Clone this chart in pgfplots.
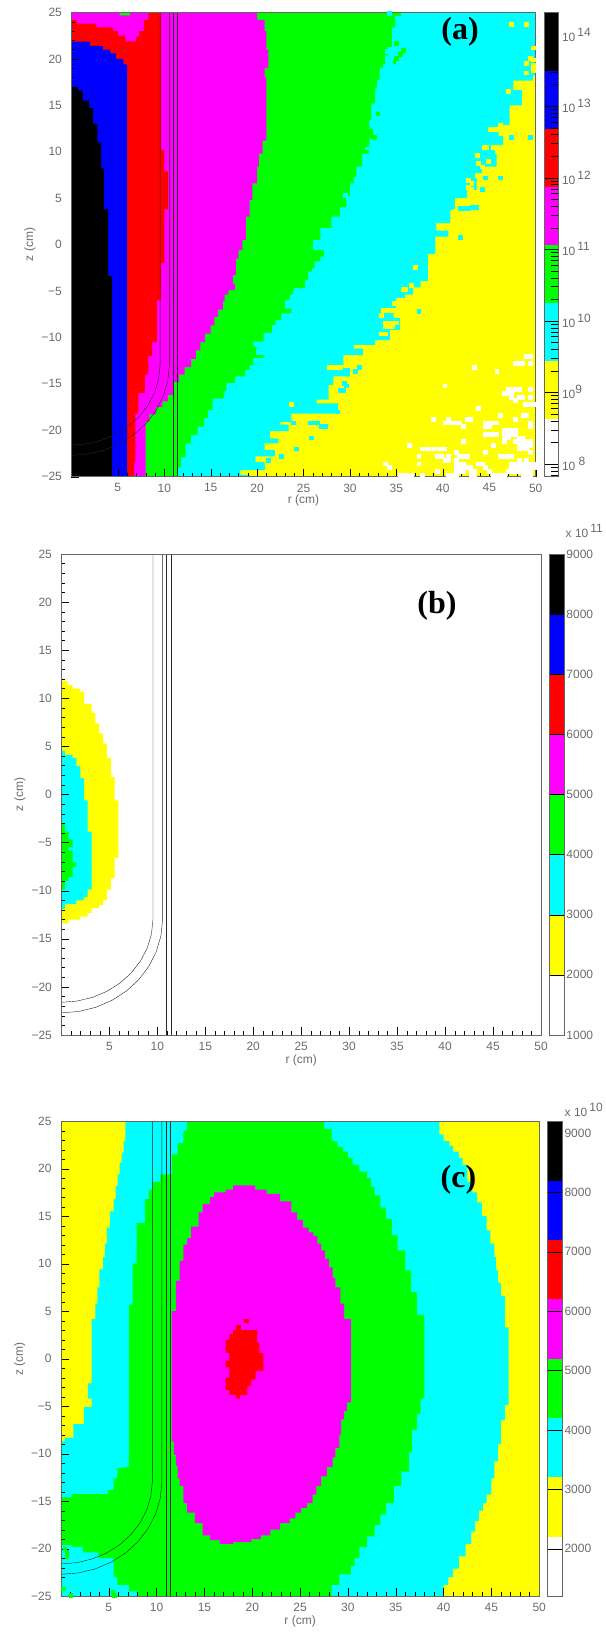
\documentclass[border=0pt]{standalone}
\usepackage{fontspec}
\usepackage{pgfplots}
\pgfplotsset{compat=1.18}
\setmainfont{Liberation Sans}
\newfontfamily\tnr{Liberation Serif}
\definecolor{cY}{rgb}{1,1,0}
\definecolor{cC}{rgb}{0,1,1}
\definecolor{cG}{rgb}{0,1,0}
\definecolor{cM}{rgb}{1,0,1}
\definecolor{cR}{rgb}{1,0,0}
\definecolor{cB}{rgb}{0,0,1}
\definecolor{txt}{gray}{0.42}
\newcommand\tf{\fontsize{12}{14}\selectfont}
\pgfplotsset{
  main/.style={
    scale only axis, anchor=south west, xmin=0, xmax=50, ymin=-25, ymax=25,
    axis on top, axis line style={black!60, line width=.5pt},
    tick align=inside, xtick pos=bottom, ytick pos=left,
    tick style={black, line width=.35pt},
    major tick length=8pt, minor tick length=4pt,
    xtick={5,10,...,50}, minor xtick={1,2,...,49},
    ytick={-25,-20,...,25}, minor ytick={-24,-23,...,24},
    xticklabels={5,10,15,20,25,30,35,40,45,50},
    yticklabels={−25,−20,−15,−10,−5,0,5,10,15,20,25},
    tick label style={font=\tf, text=txt},
    xticklabel style={yshift=-3.5pt},
    yticklabel style={xshift=-6pt},
    xlabel={r (cm)}, ylabel={z (cm)},
    label style={font=\tf, text=txt},
    xlabel style={yshift=3pt}, ylabel style={yshift=-1pt},
    every axis plot/.append style={mark=none},
  },
  cbar/.style={
    scale only axis, anchor=south west, xmin=0, xmax=1,
    axis on top, axis line style={black!60, line width=.5pt},
    xtick=\empty, ytick pos=right, yticklabel pos=right,
    tick align=inside, tick style={black, line width=.35pt},
    tick label style={font=\tf, text=txt},
    yticklabel style={xshift=-1pt},
    every axis plot/.append style={mark=none},
  },
  band/.style={fill=#1, draw=none},
  cell/.style={only marks, mark=square*, mark size=1.86pt, color=#1, mark options={draw=none, fill=#1}},
  reg/.style={const plot, fill=#1, draw=none},
}
\newcommand\vessel{%
  \addplot[black!85, line width=.4pt] coordinates {(9.55,25)(9.55,-13)(9.39,-14.50)(8.96,-15.94)(8.25,-17.30)(7.30,-18.53)(6.13,-19.59)(4.77,-20.45)(3.26,-21.08)(1.66,-21.47)(0,-21.6)};
  \addplot[black!85, line width=.4pt] coordinates {(10.55,25)(10.55,-13)(10.38,-14.68)(9.90,-16.32)(9.13,-17.85)(8.07,-19.24)(6.78,-20.43)(5.27,-21.40)(3.60,-22.12)(1.83,-22.55)(0,-22.7)};
  \addplot[black!85, line width=.4pt] coordinates {(10.95,25)(10.95,-25)};
  \addplot[black!85, line width=.4pt] coordinates {(11.42,25)(11.42,-25)};
}
\begin{document}
\begin{tikzpicture}
\path[use as bounding box] (0,0) rectangle (605pt,1635pt);
% ---------- panel a
\begin{axis}[main, at={(71.4pt,1158.3pt)}, width=464.3pt, height=464.2pt, xlabel style={yshift=1pt}]
\addplot[reg=cY] coordinates {(0,25)(50,-25)(0,-25)};
\addplot[cell=white] coordinates {
(49.0,-12.0)(49.4,-12.0)(47.8,-12.8)(48.2,-12.8)(48.6,-12.8)(49.4,-12.8)(43.4,-13.2)(45.8,-13.6)(40.2,-15.2)
(47.0,-15.6)(47.4,-15.6)(47.8,-15.6)(48.2,-15.6)(49.4,-15.6)(46.6,-16.0)(47.0,-16.0)(47.4,-16.0)
(47.4,-16.4)(48.2,-16.4)(48.6,-16.4)(49.4,-16.4)(47.8,-16.8)(48.9,-17.2)(49.3,-17.2)(49.7,-17.2)(43.8,-17.6)
(46.2,-18.4)(48.6,-18.4)(49.0,-18.4)(39.0,-18.8)(40.6,-18.8)(42.6,-18.8)(43.0,-18.8)(47.8,-18.8)
(40.2,-19.2)(40.6,-19.2)(41.0,-19.2)(41.4,-19.2)(41.8,-19.2)(44.6,-19.2)(45.0,-19.2)(45.4,-19.2)(45.8,-19.2)(49.4,-19.2)
(42.2,-19.6)(44.6,-19.6)(45.0,-19.6)(49.4,-19.6)(46.6,-20.0)(47.0,-20.0)(47.4,-20.0)(47.8,-20.0)
(44.6,-20.4)(45.0,-20.4)(45.4,-20.4)(45.8,-20.4)(46.6,-20.4)(47.0,-20.4)(47.4,-20.4)(47.8,-20.4)
(46.6,-20.8)(47.0,-20.8)(48.2,-20.8)(48.6,-20.8)(42.2,-21.2)(46.6,-21.2)(47.8,-21.2)(48.2,-21.2)(48.6,-21.2)(49.0,-21.2)(49.4,-21.2)
(36.4,-21.6)(45.4,-21.6)(48.2,-21.6)(48.6,-21.6)(49.0,-21.6)(49.4,-21.6)
(37.8,-22.0)(38.2,-22.0)(38.6,-22.0)(39.0,-22.0)(39.4,-22.0)(39.8,-22.0)(40.2,-22.0)(48.2,-22.0)(48.6,-22.0)(49.0,-22.0)
(41.4,-22.4)(44.6,-22.4)(49.4,-22.4)(37.4,-22.8)(39.4,-22.8)(39.8,-22.8)(40.6,-22.8)(41.8,-22.8)(42.2,-22.8)(42.6,-22.8)(46.2,-22.8)(46.6,-22.8)(47.0,-22.8)(47.4,-22.8)
(40.2,-23.2)(40.6,-23.2)(41.4,-23.2)(48.2,-23.2)(49.0,-23.2)(37.4,-23.6)(33.8,-23.6)(41.4,-23.6)(41.8,-23.6)(42.2,-23.6)(43.8,-23.6)(44.2,-23.6)(47.4,-23.6)(47.8,-23.6)(48.2,-23.6)(48.6,-23.6)(49.0,-23.6)(49.4,-23.6)(49.8,-23.6)
(34.2,-24.0)(41.4,-24.0)(41.8,-24.0)(42.2,-24.0)(42.6,-24.0)(43.0,-24.0)(44.6,-24.0)(47.4,-24.0)(47.8,-24.0)(48.2,-24.0)(48.6,-24.0)(49.0,-24.0)(49.4,-24.0)(49.8,-24.0)
(39.4,-24.4)(41.4,-24.4)(41.8,-24.4)(42.2,-24.4)(43.0,-24.4)(43.4,-24.4)(45.0,-24.4)(47.0,-24.4)(47.4,-24.4)(47.8,-24.4)(48.2,-24.4)(48.6,-24.4)(49.0,-24.4)(49.4,-24.4)
(35.4,-24.8)(35.8,-24.8)(36.2,-24.8)(36.6,-24.8)(37.8,-24.8)(40.6,-24.8)(41.0,-24.8)(41.4,-24.8)(43.0,-24.8)(43.4,-24.8)(45.4,-24.8)(45.8,-24.8)(46.2,-24.8)(46.6,-24.8)(48.6,-24.8)(49.0,-24.8)(49.4,-24.8)
};
\addplot[reg=cC] coordinates {(0,25)(50,18.2)(49.7,17.66)(47.6,16.65)(48.5,15)(47.2,12.9)(46,11.7)(46.5,10.7)(45.6,9.8)(45.8,8.4)(44.2,7.7)(43.65,5.9)(42.6,5)(41.3,3.7)(40.8,2.3)(39.3,1.5)(40.6,0.85)(39.2,-0.2)(39.2,-1)(38.4,-2)(38.4,-3.9)(37.6,-4.6)(36.8,-5.4)(35.9,-6.1)(35,-6.9)(34.7,-7.9)(35.4,-9.2)(34.3,-10.3)(32.7,-10.8)(30.4,-11.2)(31.4,-11.9)(29.3,-13.3)(30,-14.2)(28.2,-15.1)(27.7,-16.7)(26.4,-17.1)(28.7,-18.2)(23.7,-19.1)(22.5,-19.4)(23.4,-20.1)(21.4,-20.9)(22.3,-21.4)(20.8,-22.1)(21.9,-22.8)(19.8,-23.4)(20.8,-24.3)(18.2,-24.8)(19.2,-25)(0,-25)};
\addplot[cell=cC] coordinates {(49.4,11.6)(47.4,11.6)(46.2,7.2)(44.2,6)(44.6,7.2)(43.2,4)(43.6,4)(41.9,3.9)(42.3,3.9)(42.7,3.9)(41.9,0.8)(37.4,-7.15)(31,-13.2)(30.6,-13.6)(29.4,-14.9)(29.6,-15.2)(28.9,-15.7)(29.3,-15.7)(28.6,-18)(25.8,-20.8)(24.2,-22)(22.6,-22.8)(25.7,-19.2)(26.1,-19.2)(26.5,-19.2)(26.9,-19.6)(27.3,-19.6)(23.9,-19.2)(27.2,-17.4)(27.6,-17.4)(28,-17.4)(21.2,-23.2)(20.3,-24)(20.6,-24)};
\addplot[cell=cY] coordinates {(47.4,23.7)(49,23.7)(49.7,21.2)(49.4,20.1)(49.7,19.9)(49,19.5)(49.7,19.3)(49,18.5)(49.7,18.8)(47,16.5)(45.1,12.4)(45.5,12.4)(45.9,12.4)(46.3,12.4)(46.2,12.9)(44.4,10.5)(44.7,10.5)(45.4,10.5)(43.7,9.65)(43.8,8.8)(44.2,8.4)(44.9,9)(43.65,7.5)(42.7,6.9)(43.1,6.6)(42.7,6.2)(43.1,6)(41.7,4.4)(41.3,3.6)
(37,-2.4)(36.6,-4.35)(35.7,-4.8)(36,-4.8)(34.8,-6.3)(35.2,-6)(35.6,-6)(33.6,-7.1)(34,-7.1)(34.4,-7.1)(34.8,-7.1)(33.4,-7.6)(33.8,-8.4)(34.2,-8.4)(34.6,-8.4)(35,-8.4)(33.8,-8.8)(34.2,-8.8)(34.6,-8.8)(33.4,-9.6)(33.8,-9.6)(27.8,-13.2)(28.2,-13.2)(28.6,-13.2)(29,-13.2)(23.7,-17.2)};
\addplot[reg=cG] coordinates {(0,25)(35.5,24.6)(34.85,23.4)(34.5,21.3)(34.1,20.4)(33.8,19)(33.2,17.7)(32.9,16.8)(32.7,15.2)(32.3,13.4)(32.1,12.5)(32.5,11.4)(32.1,10.5)(31.6,9.8)(31.3,8.4)(30.7,7.3)(30.4,6.6)(30,5.2)(29.6,4)(28.9,3)(28,1.8)(26.8,0.5)(26,-0.6)(27.2,-1.3)(26.8,-1.8)(26.2,-2.55)(25.9,-2.9)(25.5,-3.8)(25.15,-4.7)(23.9,-5.4)(23.5,-6)(23,-6.9)(23.7,-7.4)(22.6,-8.1)(22,-8.65)(21.6,-9.5)(20.7,-10.45)(19.6,-11)(19.9,-11.9)(20.7,-12.2)(19.6,-13)(19.2,-13.5)(18.7,-14.2)(17.6,-14.9)(16.7,-15.8)(16.4,-16.6)(15.2,-17.8)(14.7,-18.7)(14.3,-19.6)(13.6,-20.5)(12.9,-21.4)(12.3,-22.9)(11.8,-24)(11.4,-25)(0,-25)};
\addplot[cell=cG] coordinates {(35,21.7)(35.75,20.9)(35.4,20.5)(35,20.1)(34.7,19.7)(33,14.1)(32.6,11.6)(31.8,10)};
\addplot[cell=cC] coordinates {(34.2,24.9)(34,20.8)(34.3,20.4)(34,20.1)(34.3,19.7)(33.8,19.2)(29.5,5.3)};
\addplot[reg=cM] coordinates {(0,25)(20,24.2)(20.8,23)(21,21)(21.2,19)(20.8,18)(21,13)(21,11.2)(20.6,9.8)(20.2,8.4)(20,6.6)(19.5,4.8)(19.2,3)(18.8,0.5)(18.4,-0.6)(18,-1.5)(17.7,-3.3)(17.4,-4.2)(17.6,-4.9)(16.9,-5.4)(16.5,-6.1)(16.3,-7)(15.8,-7.8)(15.4,-8.7)(15,-9.6)(14.4,-10.5)(13.9,-11.4)(13.4,-12.3)(12.9,-13.2)(12.2,-14)(11.6,-14.8)(11,-16.2)(10.4,-16.9)(9.8,-17.5)(9.1,-18.3)(8.4,-19.1)(8,-25)(0,-25)};
\addplot[reg=cG] coordinates {(5.2,25)(6.3,24.7)(5.2,24.7)};
\addplot[reg=cR] coordinates {(0,24.2)(0.6,23.8)(2.7,23.4)(4.5,23)(5,22.5)(5.8,21.9)(6.6,21.9)(7,22.4)(7.3,23)(7.8,24.2)(8.3,25)(9.65,10.2)(10,7.85)(10.4,3.8)(10,-2)(9.65,-6)(9.2,-10.5)(8.7,-12)(8.3,-14)(7.9,-16)(7.2,-18.2)(6.9,-23.4)(6.75,-25)(0,-25)};
\addplot[reg=cB] coordinates {(0,21.85)(2,21.4)(3.4,21)(4.2,20.6)(4.8,20)(5.6,19.4)(6,18.1)(6,-25)(0,-25)};
\addplot[reg=black] coordinates {(0,17)(0.7,16.6)(1.2,15.5)(1.9,14.7)(2.3,13)(2.8,11)(3.2,8.2)(3.5,3.8)(3.95,-3.4)(4.36,-25)(0,-25)};
\vessel
\end{axis}
\begin{axis}[cbar, at={(544pt,1158.3pt)}, width=14pt, height=464.2pt, ymin=7.82, ymax=14.31,
  ytick={8,9,10,11,12,13,14},
  minor ytick={7.845,7.903,7.954,8.301,8.477,8.602,8.699,8.778,8.845,8.903,8.954,9.301,9.477,9.602,9.699,9.778,9.845,9.903,9.954,10.301,10.477,10.602,10.699,10.778,10.845,10.903,10.954,11.301,11.477,11.602,11.699,11.778,11.845,11.903,11.954,12.301,12.477,12.602,12.699,12.778,12.845,12.903,12.954,13.301,13.477,13.602,13.699,13.778,13.845,13.903,13.954,14.301},
  yticklabels={10\raisebox{5pt}{ 8},10\raisebox{5pt}{9},10\raisebox{5pt}{\,10},10\raisebox{5pt}{\,11},10\raisebox{5pt}{\,12},10\raisebox{5pt}{\,13},10\raisebox{5pt}{\,14}},
  yticklabel style={xshift=1.5pt},
  major tick length=14pt, minor tick length=7pt]
\addplot[band=white] coordinates {(0,7.82)(1,7.82)(1,8.631)(0,8.631)};
\addplot[band=cY] coordinates {(0,8.631)(1,8.631)(1,9.442)(0,9.442)};
\addplot[band=cC] coordinates {(0,9.442)(1,9.442)(1,10.253)(0,10.253)};
\addplot[band=cG] coordinates {(0,10.253)(1,10.253)(1,11.064)(0,11.064)};
\addplot[band=cM] coordinates {(0,11.064)(1,11.064)(1,11.875)(0,11.875)};
\addplot[band=cR] coordinates {(0,11.875)(1,11.875)(1,12.686)(0,12.686)};
\addplot[band=cB] coordinates {(0,12.686)(1,12.686)(1,13.497)(0,13.497)};
\addplot[band=black] coordinates {(0,13.497)(1,13.497)(1,14.31)(0,14.31)};
\end{axis}
\node[font=\fontsize{32}{34}\selectfont\tnr\bfseries] at (460pt,1603pt) {(a)};
% ---------- panel b
\begin{axis}[main, at={(61.4pt,600pt)}, width=479.6pt, height=481pt]
\addplot[reg=cY] coordinates {(0,11.8)(0.65,11.36)(1.17,11)(1.97,10.65)(2.37,9.4)(3.14,8.5)(3.54,7.4)(3.94,6.35)(4.34,5.3)(4.75,3.8)(5.15,1.8)(5.55,-0.6)(5.95,-6.6)(5.55,-8.7)(5.15,-9.9)(4.75,-11)(4.34,-11.5)(3.94,-11.8)(3.14,-12.3)(2.74,-12.7)(1.97,-13)(0.76,-13.4)(0.36,-13.4)(0,-13.4)};
\addplot[reg=cC] coordinates {(0,4.56)(0.36,4.13)(1.17,3.8)(1.57,2.95)(1.97,1.7)(2.37,-0.6)(2.74,-3.85)(3.14,-7.4)(3.54,-7.4)(3.14,-9.86)(2.74,-10.65)(2.33,-11)(1.57,-11.4)(0.36,-11.9)(0,-11.9)};
\addplot[reg=cG] coordinates {(0,-3)(0.36,-3.85)(0.76,-4.67)(1.17,-5.46)(0.76,-5.8)(1.17,-7.07)(1.57,-7.5)(1.17,-8.6)(0.76,-9)(0.36,-9.86)(0,-9.86)};
\vessel
\end{axis}
\begin{axis}[cbar, at={(549.6pt,600pt)}, width=14.3pt, height=481pt, ymin=1000, ymax=9000,
  ytick={1000,2000,...,9000}, yticklabels={1000,2000,3000,4000,5000,6000,7000,8000,9000}, major tick length=14.3pt]
\addplot[band=white] coordinates {(0,1000)(1,1000)(1,2000)(0,2000)};
\addplot[band=cY] coordinates {(0,2000)(1,2000)(1,3000)(0,3000)};
\addplot[band=cC] coordinates {(0,3000)(1,3000)(1,4000)(0,4000)};
\addplot[band=cG] coordinates {(0,4000)(1,4000)(1,5000)(0,5000)};
\addplot[band=cM] coordinates {(0,5000)(1,5000)(1,6000)(0,6000)};
\addplot[band=cR] coordinates {(0,6000)(1,6000)(1,7000)(0,7000)};
\addplot[band=cB] coordinates {(0,7000)(1,7000)(1,8000)(0,8000)};
\addplot[band=black] coordinates {(0,8000)(1,8000)(1,9000)(0,9000)};
\end{axis}
\node[anchor=west, font=\tf, text=txt, inner sep=0pt] at (565.5pt,1104pt) {x 10\raisebox{5pt}{\,11}};
\node[font=\fontsize{32}{34}\selectfont\tnr\bfseries] at (437pt,1029pt) {(b)};
% ---------- panel c
\begin{axis}[main, at={(61pt,38.8pt)}, width=478.2pt, height=475pt]
\addplot[reg=cY] coordinates {(0,25)(50,-25)(0,-25)};
\addplot[reg=cC] coordinates {(7.14,25)(6.74,22.9)(6.54,21.7)(6.34,20.6)(6.14,19.4)(5.93,18.2)(5.7,16.8)(5.5,15.5)(5.1,13.8)(4.8,12.1)(4.6,10.7)(4.4,9.4)(4,7.5)(3.8,5.8)(3.6,4.2)(3.2,1.4)(3.2,-2.6)(2.8,-4.2)(3.2,-5.1)(2.4,-6.9)(1.3,-8.3)(0.4,-8.7)(0,-9)(0,-25)(40,-25)(40,-23.8)(40.5,-23)(41,-22.1)(41.6,-20.8)(42.3,-19.5)(42.9,-18.2)(43.3,-17.1)(43.7,-16)(44.1,-15.2)(44.5,-14.3)(45,-12.6)(45.3,-10.8)(45.7,-9)(46,-6.5)(46.4,-4.9)(46.8,-3.3)(46.8,3.3)(46.4,6.6)(46,8)(45.7,9.3)(45.5,10.7)(45.3,12.1)(44.9,13.5)(44.5,15)(44,16.45)(43.5,17.5)(43,18.6)(42.5,20.4)(42,21.1)(41.6,21.8)(41,22.4)(40.6,22.9)(40,23.6)(39.55,25)};
\addplot[reg=cG] coordinates {(13.2,25)(27.5,24.2)(28.3,22.9)(28.9,22.3)(29.5,21.8)(30,21.1)(30.5,20.4)(31.2,19.7)(32,19)(32.4,18.1)(32.8,17.2)(33.4,15.9)(34,14.7)(34.6,13)(35.2,11.4)(36,9.3)(36.6,7)(37.2,4.6)(38,-4.2)(37.6,-5.8)(37.2,-7.5)(36.7,-9.8)(36.4,-11.9)(35.6,-13.4)(34.8,-15.2)(34,-16.4)(33.4,-17.5)(32.8,-18.7)(32,-19.8)(31.2,-21)(30.7,-21.8)(30.3,-22.7)(29.1,-23.8)(28.3,-25)(8,-25)(8,-24.5)(7.1,-23.8)(5.9,-23)(5.5,-21)(3.9,-20.4)(2.3,-19.8)(1.1,-19.6)(0,-19.1)(0,-14.6)(1.1,-14.25)(4.9,-13.8)(5.5,-12.6)(5.9,-11.5)(6.7,-11.4)(7.1,-8.7)(7.1,5.7)(7.5,10)(7.9,14.3)(8.8,16.8)(9.2,17.8)(9.6,18.6)(10.4,19.4)(11.6,21.5)(12.2,22.7)(12.8,24)(13.2,25)};
\addplot[cell=cG] coordinates {(0.4,-20)(0.6,-20.4)(0.6,-20.8)(0.2,-24.2)(1,-24.9)(5.4,-24.6)(5.6,-24.9)};
\addplot[reg=cM] coordinates {(18,18.25)(20.3,17.8)(21.5,17.35)(22.9,16.55)(24.1,15.4)(24.7,14.6)(25.3,13.8)(25.9,13.3)(26.4,12.9)(26.8,12.1)(27.2,11.4)(27.6,10.5)(28,9.6)(28.4,8.5)(28.7,7.5)(29.2,5.8)(29.6,4.2)(30.3,-4.6)(29.9,-5.5)(29.6,-6.4)(29.3,-8)(29.1,-9.4)(28.7,-10.4)(28.4,-11.4)(27.8,-12.4)(27.2,-13.4)(26.7,-14.3)(26.3,-15.2)(25.7,-15.7)(25.1,-16.2)(24.5,-16.8)(23.9,-17.3)(22.9,-18)(21.9,-18.6)(20.9,-19)(19.9,-19.3)(18,-19.5)(16.6,-19.1)(15.6,-18.6)(14.8,-17.3)(14,-16.2)(13.2,-15.2)(12.8,-13.4)(12.4,-12.6)(12.2,-11.3)(12,-10.1)(11.8,-8.7)(11.6,-7.4)(11.6,5)(12,8.2)(12.4,10.3)(12.8,12)(13.2,12.7)(13.6,13.9)(14.4,15.4)(14.8,16.3)(15.6,17)(16,17.5)(17.2,17.8)(18,18.25)};
\addplot[reg=cR] coordinates {(18,3)(20.5,1.7)(20.74,0.6)(21.15,-1.3)(20.34,-2.2)(19.9,-2.9)(19.5,-3.8)(18.7,-4.2)(18.3,-4.2)(18.3,-3.8)(17.6,-3.3)(17.2,-2)(17.6,-0.9)(17.2,-0.2)(17.6,0.6)(17.2,2)(17.6,2.6)(18,3)};
\addplot[cell=cR] coordinates {(19.4,4)(18.5,3.3)};
\vessel
\end{axis}
\begin{axis}[cbar, at={(547.7pt,38.8pt)}, width=14.3pt, height=475pt, ymin=1200, ymax=9200,
  ytick={2000,3000,...,9000}, yticklabels={2000,3000,4000,5000,6000,7000,8000,9000}, major tick length=14.3pt]
\addplot[band=white] coordinates {(0,1200)(1,1200)(1,2200)(0,2200)};
\addplot[band=cY] coordinates {(0,2200)(1,2200)(1,3200)(0,3200)};
\addplot[band=cC] coordinates {(0,3200)(1,3200)(1,4200)(0,4200)};
\addplot[band=cG] coordinates {(0,4200)(1,4200)(1,5200)(0,5200)};
\addplot[band=cM] coordinates {(0,5200)(1,5200)(1,6200)(0,6200)};
\addplot[band=cR] coordinates {(0,6200)(1,6200)(1,7200)(0,7200)};
\addplot[band=cB] coordinates {(0,7200)(1,7200)(1,8200)(0,8200)};
\addplot[band=black] coordinates {(0,8200)(1,8200)(1,9200)(0,9200)};
\end{axis}
\node[anchor=west, font=\tf, text=txt, inner sep=0pt] at (564.5pt,525.5pt) {x 10\raisebox{5pt}{\,10}};
\node[font=\fontsize{32}{34}\selectfont\tnr\bfseries] at (458.5pt,455pt) {(c)};
\end{tikzpicture}
\end{document}
